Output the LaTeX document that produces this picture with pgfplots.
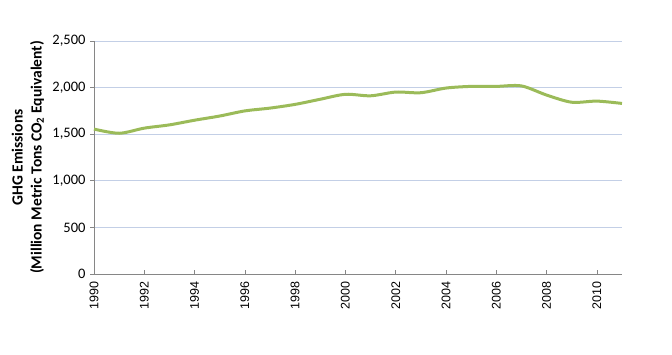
\documentclass[border=0pt]{standalone}
\usepackage{pgfplots}
\pgfplotsset{compat=1.18}
\usepackage{fontspec}
\setmainfont{Carlito}
\newfontfamily\arialfont{Liberation Sans}
\definecolor{linegreen}{HTML}{9BBB59}
\definecolor{gridc}{RGB}{195,207,230}
\definecolor{axisc}{HTML}{868686}
\begin{document}
\begin{tikzpicture}
\path[use as bounding box] (0,0) rectangle (672bp,355bp);
\begin{axis}[
  at={(94bp,81bp)}, anchor=south west,
  scale only axis, width=528bp, height=233bp,
  xmin=1990, xmax=2011, ymin=0, ymax=2500,
  axis lines*=left,
  axis line style={axisc, line width=0.8pt},
  xtick={1990,1992,...,2010},
  ytick={0,500,...,2500},
  ymajorgrids, grid style={gridc, line width=0.6pt},
  x tick style={axisc, line width=0.6pt}, y tick style={axisc, line width=0.6pt},
  xtick align=inside, ytick align=outside,
  major tick length=4bp,
  scaled y ticks=false,
  /pgf/number format/assume math mode=true,
  yticklabel style={/pgf/number format/1000 sep={,}, font=\fontsize{14.5bp}{16bp}\selectfont, xshift=-1bp},
  xticklabel shift=4bp,
  xticklabel style={rotate=90, anchor=east, font=\arialfont\fontsize{12.5bp}{14bp}\selectfont, /pgf/number format/1000 sep={}},
  ylabel={GHG Emissions\\(Million Metric Tons CO\textsubscript{2} Equivalent)},
  every axis y label/.style={at={(-66bp,116.5bp)}, rotate=90, anchor=center, align=center, font=\bfseries\fontsize{15.5bp}{19bp}\selectfont},
  clip=false,
]
\addplot[linegreen, line width=3bp, smooth, tension=0.5] coordinates {
(1990,1555) (1991,1510) (1992,1565) (1993,1600) (1994,1650) (1995,1695)
(1996,1750) (1997,1780) (1998,1820) (1999,1875) (2000,1928) (2001,1912)
(2002,1952) (2003,1945) (2004,1995) (2005,2013) (2006,2013) (2007,2018)
(2008,1920) (2009,1843) (2010,1855) (2011,1830)
};
\end{axis}
\end{tikzpicture}
\end{document}
